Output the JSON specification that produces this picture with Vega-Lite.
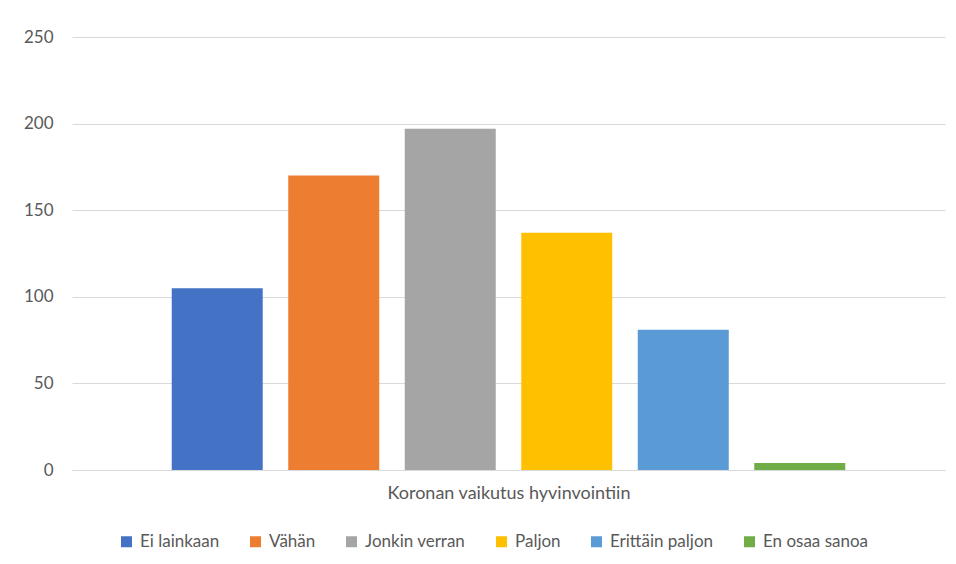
{
  "$schema": "https://vega.github.io/schema/vega-lite/v6.json",
  "width": 873,
  "height": 433,
  "autosize": {"type": "none"},
  "padding": {"left": 72, "top": 37, "right": 11, "bottom": 94},
  "background": "white",
  "data": {
    "values": [
      {"kategoria": "Koronan vaikutus hyvinvointiin", "vastaus": "Ei lainkaan", "maara": 105},
      {"kategoria": "Koronan vaikutus hyvinvointiin", "vastaus": "Vähän", "maara": 170},
      {"kategoria": "Koronan vaikutus hyvinvointiin", "vastaus": "Jonkin verran", "maara": 197},
      {"kategoria": "Koronan vaikutus hyvinvointiin", "vastaus": "Paljon", "maara": 137},
      {"kategoria": "Koronan vaikutus hyvinvointiin", "vastaus": "Erittäin paljon", "maara": 81},
      {"kategoria": "Koronan vaikutus hyvinvointiin", "vastaus": "En osaa sanoa", "maara": 4}
    ]
  },
  "mark": {"type": "bar"},
  "encoding": {
    "x": {
      "field": "vastaus",
      "type": "nominal",
      "sort": ["Ei lainkaan", "Vähän", "Jonkin verran", "Paljon", "Erittäin paljon", "En osaa sanoa"],
      "scale": {"paddingInner": 0.219, "paddingOuter": 0.856},
      "axis": {
        "labels": false,
        "ticks": false,
        "domain": true,
        "domainColor": "#d9d9d9",
        "domainWidth": 1,
        "title": "Koronan vaikutus hyvinvointiin",
        "titleFont": "Lato",
        "titleFontSize": 18,
        "titleFontWeight": "normal",
        "titleColor": "#595959",
        "titlePadding": 14
      }
    },
    "y": {
      "field": "maara",
      "type": "quantitative",
      "scale": {"domain": [0, 250], "nice": false},
      "axis": {
        "values": [0, 50, 100, 150, 200, 250],
        "title": null,
        "domain": false,
        "ticks": false,
        "labelPadding": 19,
        "labelFont": "Lato",
        "labelFontSize": 17,
        "labelColor": "#595959",
        "gridColor": "#d9d9d9",
        "gridWidth": 1
      }
    },
    "color": {
      "field": "vastaus",
      "type": "nominal",
      "sort": ["Ei lainkaan", "Vähän", "Jonkin verran", "Paljon", "Erittäin paljon", "En osaa sanoa"],
      "scale": {
        "domain": ["Ei lainkaan", "Vähän", "Jonkin verran", "Paljon", "Erittäin paljon", "En osaa sanoa"],
        "range": ["#4472C4", "#ED7D31", "#A5A5A5", "#FFC000", "#5B9BD5", "#70AD47"]
      },
      "legend": {
        "orient": "none",
        "legendX": 46,
        "legendY": 496,
        "direction": "horizontal",
        "title": null,
        "symbolType": "square",
        "symbolSize": 121,
        "symbolStrokeWidth": 0,
        "labelFont": "Lato",
        "labelFontSize": 17,
        "labelColor": "#595959",
        "labelOffset": 5,
        "columnPadding": 27
      }
    }
  },
  "config": {
    "view": {"stroke": null},
    "axis": {"grid": true},
    "axisX": {"grid": false}
  }
}
